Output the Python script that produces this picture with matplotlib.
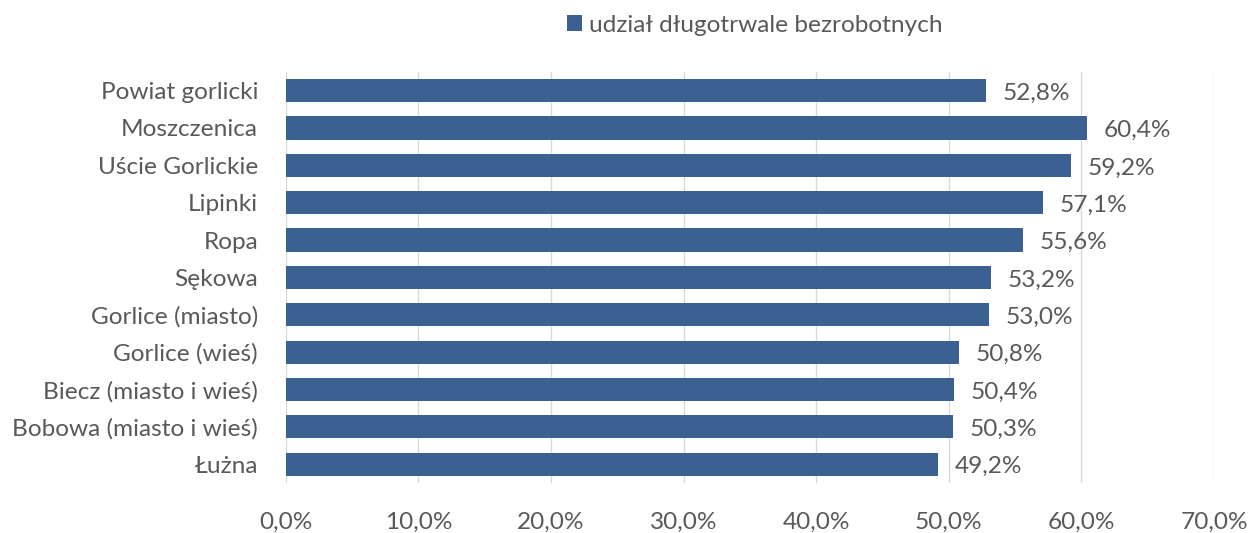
import matplotlib
matplotlib.use("Agg")
import matplotlib.pyplot as plt

# data
categories = ["Powiat gorlicki", "Moszczenica", "Uście Gorlickie", "Lipinki", "Ropa",
              "Sękowa", "Gorlice (miasto)", "Gorlice (wieś)", "Biecz (miasto i wieś)",
              "Bobowa (miasto i wieś)", "Łużna"]
values = [52.8, 60.4, 59.2, 57.1, 55.6, 53.2, 53.0, 50.8, 50.4, 50.3, 49.2]
series_name = "udział długotrwale bezrobotnych"
xticks = [0, 10, 20, 30, 40, 50, 60, 70]

plt.rcParams['font.family'] = ['Lato', 'DejaVu Sans']
color = "#3A6191"
txt = "#595959"
fs = 17.6

fig = plt.figure(figsize=(12.48, 5.33), dpi=100)
ax = fig.add_axes([0.229, 0.094, 0.7438, 0.771])

y = list(range(len(categories)))
bars = ax.barh(y, values, height=0.62, color=color, label=series_name, zorder=3)

for yi, v in zip(y, values):
    ax.text(v + 1.25, yi + 0.07, f"{v:.1f}%".replace(".", ","), va="center", ha="left",
            fontsize=fs, color=txt)

ax.set_xlim(0, 70)
ax.set_ylim(len(categories) - 0.5, -0.5)
ax.set_yticks(y)
ax.set_yticklabels(categories, fontsize=fs, color=txt)
ax.set_xticks(xticks)
ax.set_xticklabels([f"{t:.1f}%".replace(".", ",") for t in xticks], fontsize=fs, color=txt)
ax.tick_params(axis="both", length=0)
ax.tick_params(axis="y", pad=20)
ax.tick_params(axis="x", pad=21)
ax.grid(axis="x", color="#D9D9D9", linewidth=1, zorder=0)
for s in ax.spines.values():
    s.set_visible(False)

fig.legend(handles=[bars], labels=[series_name], loc="center", bbox_to_anchor=(0.605, 0.953),
           frameon=False, fontsize=fs, handlelength=0.6, handleheight=0.6, handletextpad=0.3,
           labelcolor=txt)

fig.savefig("out.png", dpi=100)
